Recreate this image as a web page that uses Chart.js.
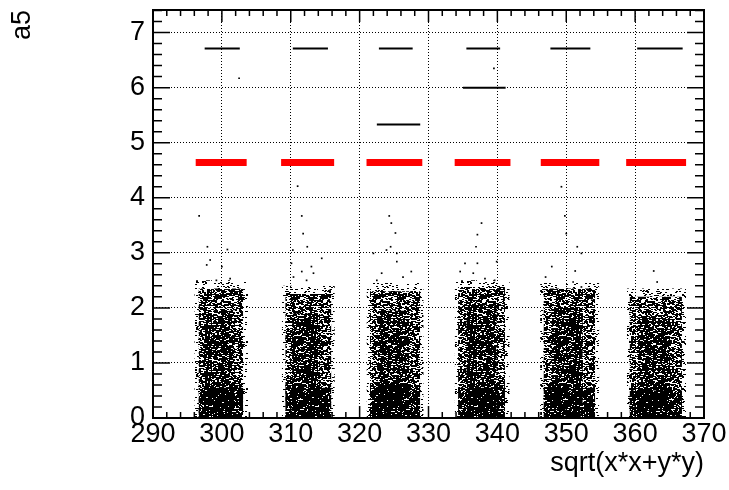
<!DOCTYPE html>
<html>
<head>
<meta charset="utf-8">
<script src="https://cdn.jsdelivr.net/npm/chart.js@4.4.1/dist/chart.umd.min.js"></script>
<style>
  body { margin: 0; background: #fff; }
  canvas { display: block; }
</style>
</head>
<body>
<canvas id="chartOne" width="729" height="490"></canvas>
<script>
// axis ranges / labels
const xTitle = 'sqrt(x*x+y*y)';
const yTitle = 'a5';
const xMin = 290, xMax = 370;
const yMin = 0, yMax = 7.41;

// dense point clusters (x extent and top of the cloud)
const fringeX0 = [296.0, 308.7, 321.0, 333.8, 346.2, 358.8];
const fringeX1 = [303.8, 316.4, 329.3, 341.8, 354.8, 367.4];
const fringeTop = [2.5, 2.4, 2.45, 2.5, 2.45, 2.35];
const coreX0 = [296.6, 309.2, 321.5, 334.3, 346.7, 359.2];
const coreX1 = [303.1, 315.9, 328.8, 341.1, 354.2, 366.8];
const coreTop = [2.35, 2.25, 2.3, 2.38, 2.35, 2.2];
const darkX0 = [297.5, 310.2, 322.6, 335.5, 347.8, 360.4];
const darkX1 = [301.9, 314.3, 327.2, 339.9, 352.4, 365.1];
const darkTop = [1.95, 1.9, 1.95, 2.05, 2.0, 1.85];
const bottomTop = [0.55, 0.55, 0.6, 0.55, 0.55, 0.5];

// sparse points outside the dense clouds
const strayX = [296.7, 297.9, 300.8, 297.8, 300.0, 299.2, 301.2, 298.3, 302.5, 311.0, 339.5, 349.3,
  311.6, 311.8, 312.4, 310.3, 314.5, 310.1, 313.0, 311.6, 313.3, 312.3, 315.7, 310.4,
  324.3, 324.6, 325.2, 324.5, 325.4, 323.9, 323.2, 325.4, 322.5, 326.3, 327.5, 322.0,
  337.7, 337.1, 336.9, 334.6, 335.3, 337.1, 339.9, 338.2, 339.6, 336.5,
  349.8, 350.0, 351.6, 352.2, 347.9, 347.0, 351.3, 351.0, 352.2, 353.7,
  362.7, 363.2, 366.5, 367.1];
const strayY = [3.67, 3.11, 3.06, 2.78, 2.75, 2.50, 2.53, 2.87, 6.17, 4.21, 6.35, 4.20,
  3.67, 3.35, 3.11, 3.05, 2.90, 2.81, 2.75, 2.66, 2.63, 2.50, 2.32, 2.56,
  3.67, 3.54, 3.36, 3.11, 2.99, 3.05, 2.63, 2.84, 2.50, 2.56, 2.66, 2.99,
  3.54, 3.33, 3.11, 2.66, 2.81, 2.81, 2.84, 2.53, 2.50, 2.63,
  3.67, 3.35, 3.11, 2.99, 2.75, 2.56, 2.67, 2.47, 2.38, 2.14,
  2.67, 2.47, 2.14, 1.38];

// red bands at a5 ~ 4.64
const redX0 = [296.2, 308.6, 321.0, 333.8, 346.3, 358.7];
const redX1 = [303.6, 316.3, 329.1, 341.9, 354.8, 367.4];
const redY = [4.64, 4.64, 4.64, 4.64, 4.64, 4.64];

// thin black lines
const lineX0 = [297.5, 310.3, 322.8, 335.5, 347.7, 360.3, 322.5, 335.0];
const lineX1 = [302.6, 315.4, 327.7, 340.4, 353.5, 366.9, 328.8, 341.2];
const lineY = [6.71, 6.71, 6.71, 6.71, 6.71, 6.71, 5.33, 6.0];

const fontName = '"Liberation Sans", Arial, sans-serif';

// stipple texture for the dense clouds
function stipple(density, seed) {
    const c = document.createElement('canvas');
    c.width = 53; c.height = 47;
    const g = c.getContext('2d');
    const img = g.createImageData(c.width, c.height);
    let s = seed;
    for (let i = 0; i < c.width * c.height; i++) {
        s = (s * 1103515245 + 12345) & 0x7fffffff;
        if (s / 0x7fffffff < density) {
            img.data[i * 4 + 3] = 255;
            // short horizontal streaks like the original
            if ((s & 3) === 0 && (i + 1) % c.width !== 0) img.data[(i + 1) * 4 + 3] = 255;
        }
    }
    g.putImageData(img, 0, 0);
    return g.createPattern(c, 'repeat');
}

const ctxOne = document.getElementById('chartOne').getContext('2d');

function box(x0, x1, top, bottom) {
    return [{x: x0, y: bottom}, {x: x0, y: top}, {x: x1, y: top}, {x: x1, y: bottom}];
}

let datasets = [];

for (let i = 0; i < redX0.length; i++) {
    datasets.push({
        data: [{x: redX0[i], y: redY[i]}, {x: redX1[i], y: redY[i]}],
        showLine: true, borderColor: '#ff0000', borderWidth: 7, borderCapStyle: 'butt',
        pointRadius: 0, order: 1
    });
}
for (let i = 0; i < lineX0.length; i++) {
    datasets.push({
        data: [{x: lineX0[i], y: lineY[i]}, {x: lineX1[i], y: lineY[i]}],
        showLine: true, borderColor: '#000', borderWidth: 2, borderCapStyle: 'butt',
        pointRadius: 0, order: 2
    });
}
datasets.push({
    data: strayX.map((x, i) => ({x: x, y: strayY[i]})),
    pointStyle: 'rect', pointRadius: 1.2, backgroundColor: '#000', borderWidth: 0, order: 3
});

const fringeTex = stipple(0.08, 11);
const coreTex = stipple(0.33, 977);
const darkTex = stipple(0.3, 4243);
const bottomTex = stipple(0.35, 31337);
for (let i = 0; i < coreX0.length; i++) {
    datasets.push({data: box(fringeX0[i], fringeX1[i], fringeTop[i], 0), showLine: true, fill: 'origin',
        backgroundColor: fringeTex, borderWidth: 0, pointRadius: 0, order: 9});
    datasets.push({data: box(coreX0[i], coreX1[i], coreTop[i], 0), showLine: true, fill: 'origin',
        backgroundColor: coreTex, borderWidth: 0, pointRadius: 0, order: 8});
    datasets.push({data: box(darkX0[i], darkX1[i], darkTop[i], 0), showLine: true, fill: 'origin',
        backgroundColor: darkTex, borderWidth: 0, pointRadius: 0, order: 7});
    datasets.push({data: box(coreX0[i], coreX1[i], bottomTop[i], 0), showLine: true, fill: 'origin',
        backgroundColor: bottomTex, borderWidth: 0, pointRadius: 0, order: 6});
}

// ROOT style frame with inside ticks on all four sides
const framePlugin = {
    id: 'frame',
    afterDraw(chart) {
        const {ctx, chartArea: a, scales: {x, y}} = chart;
        ctx.save();
        ctx.strokeStyle = '#000';
        ctx.lineWidth = 1.5;
        ctx.beginPath();
        for (let v = xMin; v <= xMax; v += 2) {
            const px = x.getPixelForValue(v);
            const len = v % 10 === 0 ? 12 : 6;
            ctx.moveTo(px, a.bottom); ctx.lineTo(px, a.bottom - len);
            ctx.moveTo(px, a.top); ctx.lineTo(px, a.top + len);
        }
        for (let i = 0; i * 0.2 <= yMax; i++) {
            const py = y.getPixelForValue(i * 0.2);
            const len = i % 5 === 0 ? 17 : 9;
            ctx.moveTo(a.left, py); ctx.lineTo(a.left + len, py);
            ctx.moveTo(a.right, py); ctx.lineTo(a.right - len, py);
        }
        ctx.stroke();
        ctx.lineWidth = 2;
        ctx.strokeRect(a.left, a.top, a.right - a.left, a.bottom - a.top);
        ctx.restore();
    }
};

let plot = new Chart(ctxOne, {
    type: 'scatter',
    data: { datasets: datasets },
    options: {
        responsive: false,
        animation: false,
        devicePixelRatio: 1,
        layout: { padding: { left: 0, right: 25, top: 10, bottom: 0 } },
        plugins: { legend: { display: false }, tooltip: { enabled: false } },
        scales: {
            x: {
                type: 'linear', min: xMin, max: xMax,
                afterFit: (s) => { s.height = 72; },
                ticks: { stepSize: 10, padding: 0, color: '#000', font: { family: fontName, size: 27 } },
                grid: { color: '#000', lineWidth: 1, drawTicks: false },
                border: { display: false, dash: [1, 2] },
                title: { display: true, text: xTitle, align: 'end', color: '#000',
                    font: { family: fontName, size: 27 }, padding: { top: 0, bottom: 10 } }
            },
            y: {
                type: 'linear', min: yMin, max: yMax,
                afterFit: (s) => { s.width = 153; s.paddingTop = 0; s.paddingBottom = 0; },
                ticks: { stepSize: 1, includeBounds: false, padding: 8, color: '#000',
                    font: { family: fontName, size: 27 } },
                grid: { color: '#000', lineWidth: 1, drawTicks: false },
                border: { display: false, dash: [1, 2] },
                title: { display: true, text: yTitle, align: 'end', color: '#000',
                    font: { family: fontName, size: 27 }, padding: { top: 6, bottom: 0 } }
            }
        }
    },
    plugins: [framePlugin]
});
</script>
</body>
</html>
